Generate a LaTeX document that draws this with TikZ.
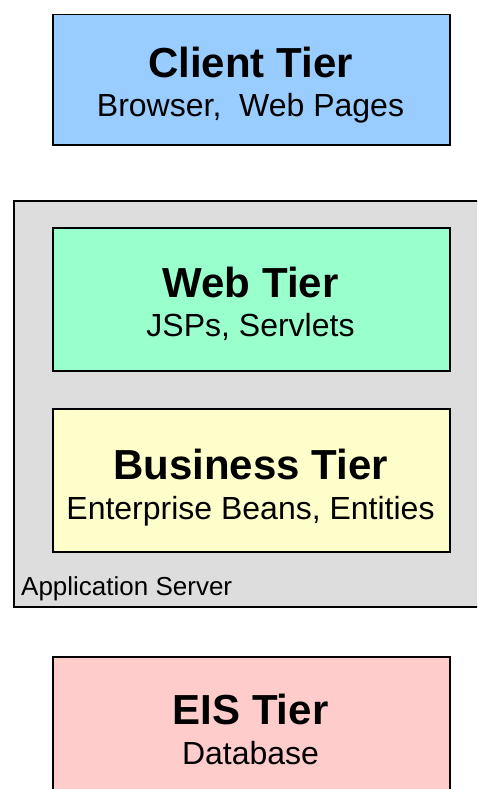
\documentclass[tikz,border=0pt]{standalone}
\usepackage{fontspec}
\setmainfont{Liberation Sans}
\definecolor{clientblue}{HTML}{99CCFF}
\definecolor{webgreen}{HTML}{99FFCC}
\definecolor{bizyellow}{HTML}{FFFFCC}
\definecolor{eispink}{HTML}{FFCCCC}
\definecolor{servergray}{HTML}{DDDDDD}
\begin{document}
\begin{tikzpicture}[x=1pt,y=-1pt,
  tierbox/.style={draw=black,line width=1.5pt,rectangle,inner sep=0pt,
    minimum width=397pt,anchor=north west},
  tiertitle/.style={anchor=base,inner sep=0pt,font=\fontsize{42}{48}\selectfont\bfseries},
  tiersub/.style={anchor=base,inner sep=0pt,font=\fontsize{32}{38}\selectfont},
  serverlabel/.style={anchor=base west,inner sep=0pt,font=\fontsize{26}{30}\selectfont}]
\useasboundingbox (0,0) rectangle (477,789);
\clip (0,0) rectangle (477,789);

% application server container
\node[draw=black,fill=servergray,line width=1.5pt,rectangle,inner sep=0pt,
  minimum width=490pt,minimum height=406pt,anchor=north west] (server) at (13,200) {};
\node[serverlabel] (serverlbl) at (21,595) {Application Server};

% client tier
\node[tierbox,fill=clientblue,minimum height=130pt] (client) at (52,14) {};
\node[tiertitle] (clientT) at (250.5,78) {Client Tier};
\node[tiersub] (clientS) at (250.5,117) {Browser,\ \ Web Pages};

% web tier
\node[tierbox,fill=webgreen,minimum height=143pt] (web) at (52,227) {};
\node[tiertitle] (webT) at (250.5,297) {Web Tier};
\node[tiersub] (webS) at (250.5,336) {JSPs, Servlets};

% business tier
\node[tierbox,fill=bizyellow,minimum height=143pt] (biz) at (52,408) {};
\node[tiertitle] (bizT) at (250.5,479) {Business Tier};
\node[tiersub] (bizS) at (250.5,519) {Enterprise Beans, Entities};

% EIS tier
\node[tierbox,fill=eispink,minimum height=160pt] (eis) at (52,656) {};
\node[tiertitle] (eisT) at (250.5,724) {EIS Tier};
\node[tiersub] (eisS) at (250.5,764) {Database};
\end{tikzpicture}
\end{document}
